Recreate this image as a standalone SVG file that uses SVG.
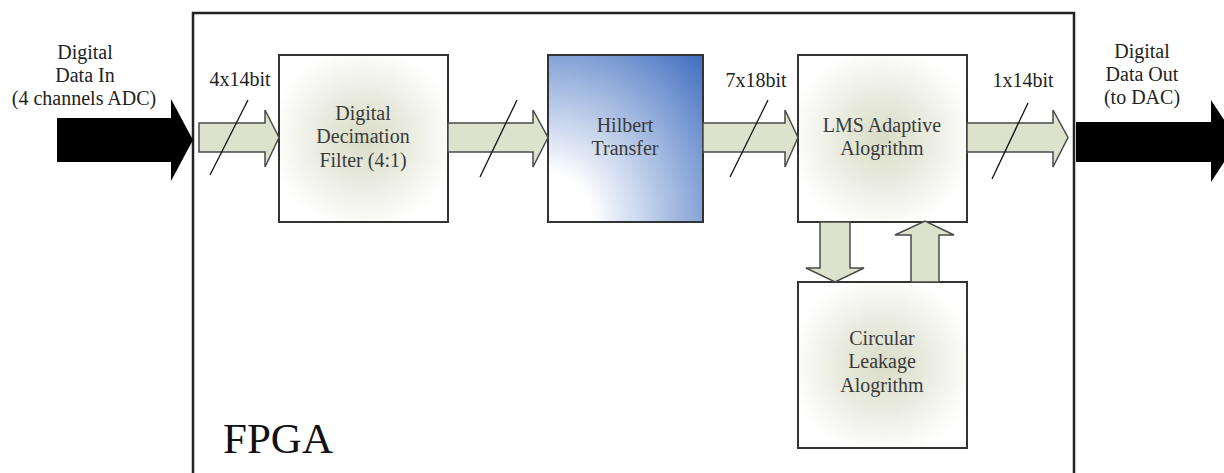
<svg xmlns="http://www.w3.org/2000/svg" width="1224" height="473" viewBox="0 0 1224 473">
  <style>
    .t { font-family: "Liberation Serif", "Tinos", "Times New Roman", Times, "Nimbus Roman", "DejaVu Serif", "Noto Serif", serif; font-size: 20px; fill: #222; }
    .bt { font-family: "Liberation Serif", "Tinos", "Times New Roman", Times, "Nimbus Roman", "DejaVu Serif", "Noto Serif", serif; font-size: 20px; fill: #3a3a3a; text-anchor: middle; }
    .big-t { font-family: "Liberation Serif", "Tinos", "Times New Roman", Times, "Nimbus Roman", "DejaVu Serif", "Noto Serif", serif; font-size: 43px; fill: #111; }
    .box { stroke: #333; stroke-width: 2; }
    .arr { fill: #dde2cc; stroke: #4a4a4a; stroke-width: 1.5; stroke-linejoin: miter; }
    .big { fill: #000; }
    .slash { stroke: #111; stroke-width: 1.3; fill: none; }
  </style>
  <defs>
    <radialGradient id="olive" cx="0.5" cy="0.5" r="0.55">
      <stop offset="0" stop-color="#d9ddc6"/>
      <stop offset="0.45" stop-color="#e8eadd"/>
      <stop offset="1" stop-color="#ffffff"/>
    </radialGradient>
    <radialGradient id="blue" cx="0" cy="1" r="1.42" fx="0" fy="1">
      <stop offset="0.2" stop-color="#ffffff"/>
      <stop offset="1" stop-color="#3d6cbf"/>
    </radialGradient>
  </defs>
  <rect x="0" y="0" width="1224" height="473" fill="#ffffff"/>

  <g id="fpga">
    <path d="M193 480 V13 H1074 V480" fill="none" stroke="#222" stroke-width="2.5"/>
    <text class="big-t" x="223" y="453">FPGA</text>
  </g>

  <g id="input-label">
    <text class="t" x="85" y="59" text-anchor="middle">Digital</text>
    <text class="t" x="85" y="82" text-anchor="middle">Data In</text>
    <text class="t" x="84" y="105" text-anchor="middle">(4 channels ADC)</text>
  </g>
  <g id="output-label">
    <text class="t" x="1142" y="58" text-anchor="middle">Digital</text>
    <text class="t" x="1142" y="81" text-anchor="middle">Data Out</text>
    <text class="t" x="1142" y="104" text-anchor="middle">(to DAC)</text>
  </g>

  <g id="decimation">
    <rect class="box" x="279" y="55" width="169" height="167" fill="url(#olive)"/>
    <text class="bt" x="363" y="120">Digital</text>
    <text class="bt" x="363" y="143">Decimation</text>
    <text class="bt" x="363" y="167">Filter (4:1)</text>
  </g>
  <g id="hilbert">
    <rect class="box" x="548" y="55" width="155" height="167" fill="url(#blue)"/>
    <text class="bt" x="625" y="132">Hilbert</text>
    <text class="bt" x="625" y="155">Transfer</text>
  </g>
  <g id="lms">
    <rect class="box" x="798" y="55" width="169" height="167" fill="url(#olive)"/>
    <text class="bt" x="882" y="132">LMS Adaptive</text>
    <text class="bt" x="882" y="155">Alogrithm</text>
  </g>
  <g id="leakage">
    <rect class="box" x="798" y="282" width="169" height="166" fill="url(#olive)"/>
    <text class="bt" x="882" y="345">Circular</text>
    <text class="bt" x="882" y="368">Leakage</text>
    <text class="bt" x="882" y="392">Alogrithm</text>
  </g>

  <g id="connectors">
    <polygon class="big" points="57,118 171,118 171,99 193,140 171,181 171,162 57,162"/>
    <polygon class="big" points="1076,122 1211,122 1211,100 1238,141 1211,182 1211,162 1076,162"/>

    <polygon class="arr" points="199,123 265,123 265,110 279,137.5 265,167 265,152 199,152"/>
    <polygon class="arr" points="448,123 533,123 533,110 548,137.5 533,167 533,152 448,152"/>
    <polygon class="arr" points="703,123 785,123 785,110 798,137.5 785,167 785,152 703,152"/>
    <polygon class="arr" points="967,123 1053,123 1053,110 1068,137.5 1053,167 1053,152 967,152"/>

    <polygon class="arr" points="820,222 850,222 850,268 864,268 835,282 806,268 820,268"/>
    <polygon class="arr" points="911,282 939,282 939,235 954,235 925,221 895,235 911,235"/>

    <line class="slash" x1="210" y1="175" x2="248" y2="100"/>
    <line class="slash" x1="480" y1="177" x2="517" y2="100"/>
    <line class="slash" x1="730" y1="177" x2="768" y2="100"/>
    <line class="slash" x1="992" y1="179" x2="1028" y2="103"/>

    <text class="t" x="240" y="86" text-anchor="middle">4x14bit</text>
    <text class="t" x="756" y="87" text-anchor="middle">7x18bit</text>
    <text class="t" x="1023" y="87" text-anchor="middle">1x14bit</text>
  </g>
</svg>
